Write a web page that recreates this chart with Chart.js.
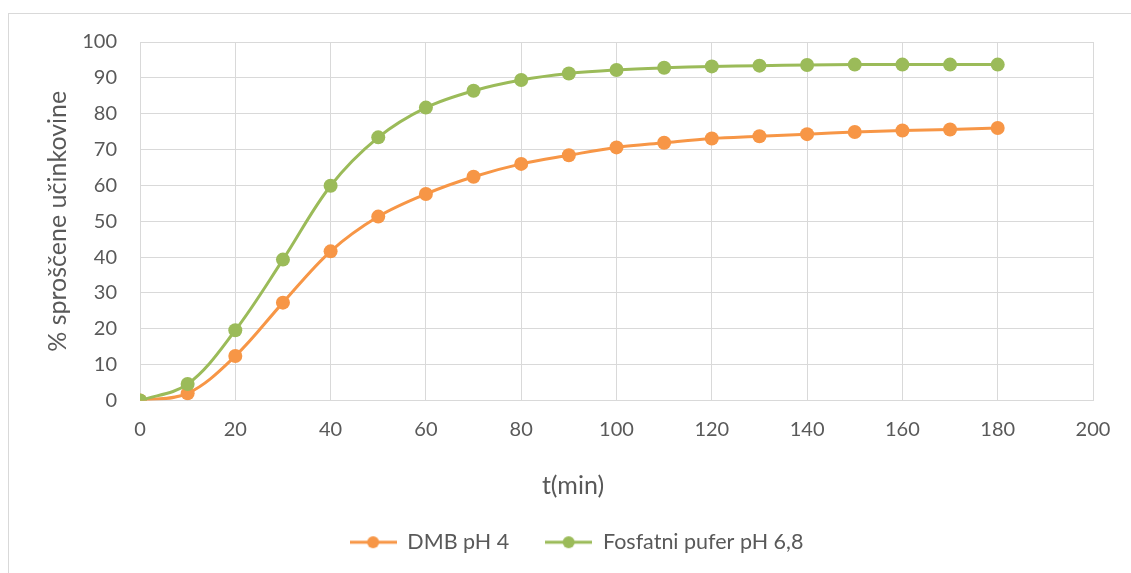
<!DOCTYPE html>
<html>
<head>
<meta charset="utf-8">
<script src="https://cdn.jsdelivr.net/npm/chart.js@4"></script>
<style>
  html, body { margin: 0; padding: 0; background: #fff; }
  #wrap { width: 1131px; height: 573px; position: relative; }
</style>
</head>
<body>
<div id="wrap"><canvas id="myChart" width="1131" height="573"></canvas></div>
<script>
// t(min)
const time = [0, 10, 20, 30, 40, 50, 60, 70, 80, 90, 100, 110, 120, 130, 140, 150, 160, 170, 180];
// % sproščene učinkovine
const dmbPh4 = [0, 2.0, 12.4, 27.3, 41.6, 51.3, 57.6, 62.4, 66.0, 68.4, 70.6, 71.9, 73.1, 73.7, 74.3, 74.9, 75.3, 75.6, 76.0];
const fosfatniPufer = [0, 4.6, 19.6, 39.3, 59.9, 73.4, 81.7, 86.4, 89.4, 91.2, 92.2, 92.8, 93.2, 93.4, 93.6, 93.7, 93.7, 93.7, 93.7];
const xTicks = [0, 20, 40, 60, 80, 100, 120, 140, 160, 180, 200];
const yTicks = [0, 10, 20, 30, 40, 50, 60, 70, 80, 90, 100];

const orange = '#F79646';
const green = '#9BBB59';
const textCol = '#595959';
const gridCol = '#d9d9d9';

function legendMarker(color) {
  const c = document.createElement('canvas');
  c.width = 47; c.height = 14;
  const g = c.getContext('2d');
  g.strokeStyle = color; g.lineWidth = 3;
  g.beginPath(); g.moveTo(0, 7); g.lineTo(47, 7); g.stroke();
  g.fillStyle = color;
  g.beginPath(); g.arc(23.5, 7, 6, 0, Math.PI * 2); g.fill();
  return c;
}

const pts = (ys) => time.map((t, i) => ({x: t, y: ys[i]}));

const frame = {
  id: 'frame',
  beforeDraw(chart) {
    const c = chart.ctx;
    c.save();
    c.fillStyle = '#fff';
    c.fillRect(0, 0, chart.width, chart.height);
    c.strokeStyle = gridCol;
    c.lineWidth = 1;
    c.strokeRect(8.5, 13.5, 2000, 2000);
    c.restore();
  },
  afterLayout(chart) {
    // legend and x title are centred on the full (wider) original chart
    chart.legend.left += 30;
    chart.legend.right += 30;
  },
  afterDraw(chart) {
    const c = chart.ctx;
    c.save();
    c.fillStyle = textCol;
    c.font = '25px Lato';
    c.textAlign = 'center';
    c.textBaseline = 'middle';
    c.fillText('t(min)', 573, 486);
    c.restore();
  }
};

const ctx = document.getElementById('myChart');

new Chart(ctx, {
  type: 'line',
  data: {
    datasets: [{
      label: 'DMB pH 4',
      data: pts(dmbPh4),
      borderColor: orange,
      backgroundColor: orange,
      pointBackgroundColor: orange,
      pointBorderWidth: 0,
      pointRadius: 7,
      borderWidth: 3,
      tension: 0.35,
      order: 2
    }, {
      label: 'Fosfatni pufer pH 6,8',
      data: pts(fosfatniPufer),
      borderColor: green,
      backgroundColor: green,
      pointBackgroundColor: green,
      pointBorderWidth: 0,
      pointRadius: 7,
      borderWidth: 3,
      tension: 0.35,
      order: 1
    }]
  },
  options: {
    responsive: false,
    animation: false,
    layout: { padding: { top: 42, left: 0, right: 38, bottom: 10 } },
    plugins: {
      tooltip: { enabled: false },
      legend: {
        position: 'bottom',
        labels: {
          usePointStyle: true,
          pointStyleWidth: 47,
          padding: 36,
          color: textCol,
          font: { family: 'Lato', size: 21.5 },
          generateLabels(chart) {
            return chart.data.datasets.map((ds, i) => ({
              text: ds.label,
              fillStyle: ds.borderColor,
              strokeStyle: ds.borderColor,
              fontColor: textCol,
              pointStyle: legendMarker(ds.borderColor),
              lineWidth: 0,
              hidden: false,
              datasetIndex: i
            }));
          }
        }
      }
    },
    scales: {
      x: {
        type: 'linear',
        min: 0,
        max: 200,
        afterBuildTicks(scale) { scale.ticks = xTicks.map(v => ({value: v})); },
        afterFit(scale) { scale.height = 95; },
        ticks: { color: textCol, padding: 17, font: { family: 'Lato', size: 20 } },
        grid: { color: gridCol, drawTicks: false },
        border: { color: gridCol }
      },
      y: {
        min: 0,
        max: 100,
        afterBuildTicks(scale) { scale.ticks = yTicks.map(v => ({value: v})); },
        afterFit(scale) { scale.width = 140; },
        title: {
          display: true,
          text: '% sproščene učinkovine',
          color: textCol,
          font: { family: 'Lato', size: 25 },
          padding: { top: 43, bottom: 0 }
        },
        ticks: { color: textCol, padding: 23, font: { family: 'Lato', size: 20 } },
        grid: { color: gridCol, drawTicks: false },
        border: { color: gridCol }
      }
    }
  },
  plugins: [frame]
});
</script>
</body>
</html>
